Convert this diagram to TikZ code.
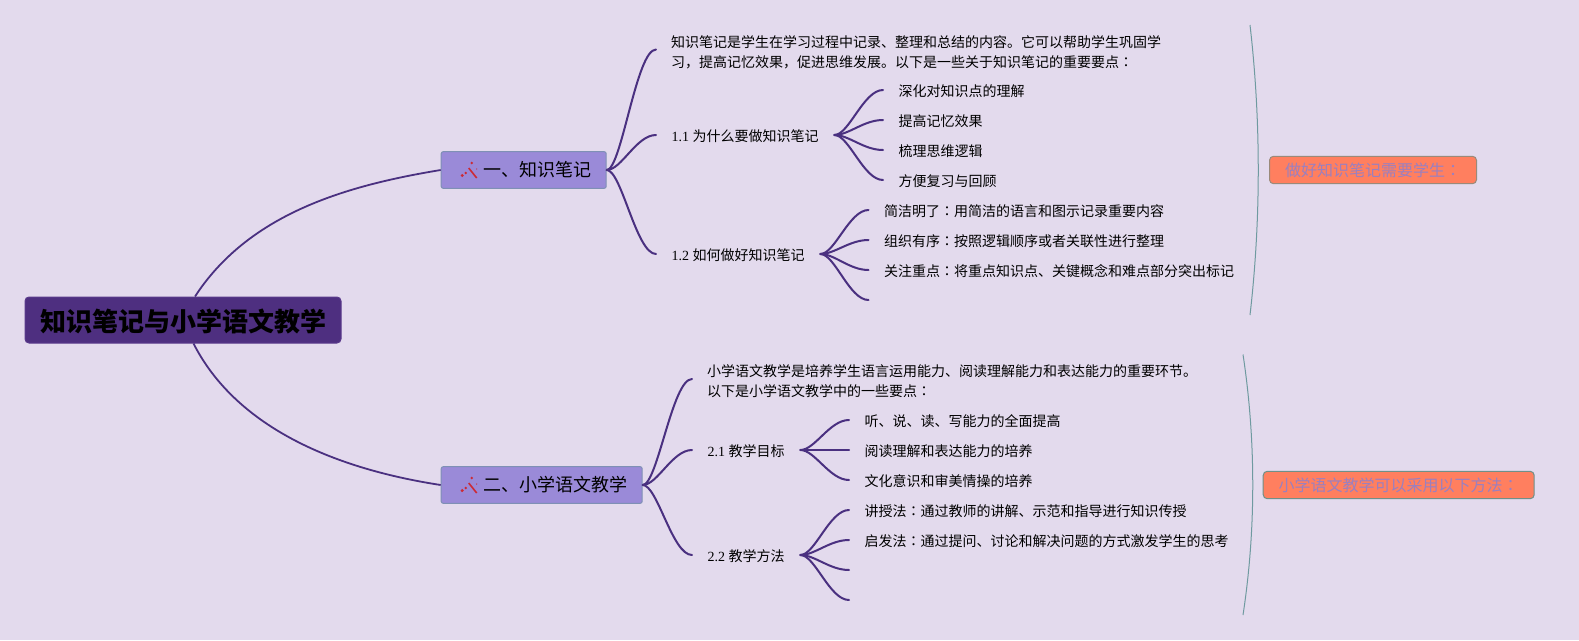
\documentclass[tikz,border=0pt]{standalone}
\usepackage{fontspec}
\setmainfont{Noto Sans CJK SC}
\newfontfamily\lat{Liberation Serif}
\newfontfamily\tcfont{Noto Sans CJK TC}
\newcommand{\zhcolon}{{\tcfont ：}}
\usetikzlibrary{calc}
\definecolor{bgc}{HTML}{E3DAED}
\definecolor{rootc}{HTML}{4E2F80}
\definecolor{rootb}{HTML}{5A3A8C}
\definecolor{topicc}{HTML}{9A8AD8}
\definecolor{topicb}{HTML}{7F90B5}
\definecolor{linkc}{HTML}{4A3080}
\definecolor{labelc}{HTML}{FF7F5F}
\definecolor{labeltx}{HTML}{9A80C0}
\definecolor{braceb}{HTML}{6F9AA0}
\definecolor{wandc}{HTML}{CC2A35}
\definecolor{labelba}{HTML}{9A8A7A}
\definecolor{labelbb}{HTML}{6F9088}
\tikzset{
  x=1pt,y=-1pt,
  rootbox/.style={draw=rootb,fill=rootc,line width=1pt,rounded corners=4pt,inner xsep=15pt,inner ysep=0pt,minimum height=46pt,
    font={\fontsize{26}{30}\selectfont\bfseries},text=black,text height=22pt,text depth=0pt},
  topicbox/.style={draw=topicb,fill=topicc,line width=1pt,rounded corners=2pt,inner xsep=15pt,inner ysep=0pt,minimum height=36.6pt,anchor=west,
    font={\fontsize{18}{22}\selectfont},text=black},
  leaf/.style={inner xsep=15.5pt,inner ysep=0pt,anchor=west,align=left,text=black,
    font={\fontsize{14}{20}\selectfont},text height=12pt,text depth=0pt},
  para/.style={inner xsep=15pt,inner ysep=0pt,anchor=west,align=left,text=black,
    font={\fontsize{14}{20}\selectfont}},
  labelbox/.style={fill=labelc,line width=1pt,rounded corners=4pt,inner xsep=15.5pt,inner ysep=0pt,minimum height=27.4pt,anchor=west,
    font={\fontsize{16}{20}\selectfont},text=labeltx},
  link/.style={draw=linkc,line width=2pt,line cap=round},
  mainlink/.style={draw=linkc,line width=1.8pt},
  bracket/.style={draw=braceb,line width=1pt},
}
\newcommand{\conn}[2]{\draw[link] (#1) .. controls ($(#1)!0.3!(#2 |- #1)$) and ($(#1 |- #2)!0.6!(#2)$) .. (#2);}
\newcommand{\wandicon}[1]{%
  \begin{scope}[shift={(#1.west)}]
    \draw[wandc,line width=1.6pt] (28,-2) -- (36,8);
    \fill[wandc] (21.5,5.5) circle (1.7pt) (25,3) circle (1.4pt) (31,-7) circle (1.4pt) (36,-1) circle (.7pt);
  \end{scope}}
\begin{document}
\begin{tikzpicture}
\useasboundingbox (0,0) rectangle (1579,640);
\fill[bgc] (0,0) rectangle (1579,640);
% nodes
\node[rootbox] (root) at (183,320) {知识笔记与小学语文教学};
\node[topicbox] (n1) at (440.7,170) {\hspace*{27pt}一、知识笔记};
\node[topicbox] (n2) at (440.7,485) {\hspace*{27pt}二、小学语文教学};
\wandicon{n1}
\wandicon{n2}
% section 1
\node[para] (t1) at (656,52.5) {知识笔记是学生在学习过程中记录、整理和总结的内容。它可以帮助学生巩固学\\习，提高记忆效果，促进思维发展。以下是一些关于知识笔记的重要要点\zhcolon};
\coordinate (t1p) at ([yshift=3pt]t1.west);
\node[leaf] (a) at (656,135) {{\lat 1.1 }为什么要做知识笔记};
\node[leaf] (b) at (656,254) {{\lat 1.2 }如何做好知识笔记};
\node[leaf] (a1) at (883,90) {深化对知识点的理解};
\node[leaf] (a2) at (883,120) {提高记忆效果};
\node[leaf] (a3) at (883,150) {梳理思维逻辑};
\node[leaf] (a4) at (883,180) {方便复习与回顾};
\node[leaf] (b1) at (868.5,210) {简洁明了\zhcolon 用简洁的语言和图示记录重要内容};
\node[leaf] (b2) at (868.5,240) {组织有序\zhcolon 按照逻辑顺序或者关联性进行整理};
\node[leaf] (b3) at (868.5,270) {关注重点\zhcolon 将重点知识点、关键概念和难点部分突出标记};
\coordinate (b4) at (868.5,300);
% section 2
\node[para] (t2) at (692,381) {小学语文教学是培养学生语言运用能力、阅读理解能力和表达能力的重要环节。\\以下是小学语文教学中的一些要点\zhcolon};
\coordinate (t2p) at ([yshift=2pt]t2.west);
\node[leaf] (c) at (692,450) {{\lat 2.1 }教学目标};
\node[leaf] (d) at (692,555) {{\lat 2.2 }教学方法};
\node[leaf] (c1) at (849,420) {听、说、读、写能力的全面提高};
\node[leaf] (c2) at (849,450) {阅读理解和表达能力的培养};
\node[leaf] (c3) at (849,480) {文化意识和审美情操的培养};
\node[leaf] (d1) at (849,510) {讲授法\zhcolon 通过教师的讲解、示范和指导进行知识传授};
\node[leaf] (d2) at (849,540) {启发法\zhcolon 通过提问、讨论和解决问题的方式激发学生的思考};
\coordinate (d3) at (849,570);
\coordinate (d4) at (849,600);
% summaries
\node[labelbox,draw=labelba] (s1) at (1269,170) {做好知识笔记需要学生\zhcolon};
\node[labelbox,draw=labelbb] (s2) at (1262.7,485) {小学语文教学可以采用以下方法\zhcolon};
% main connectors
\draw[mainlink] ([xshift=12pt]root.north) .. controls (250,212) and (350,185) .. (n1.west);
\draw[mainlink] ([xshift=10.5pt]root.south) .. controls (235,425) and (330,468) .. (n2.west);
% branches
\conn{n1.east}{t1p}
\conn{n1.east}{a.west}
\conn{n1.east}{b.west}
\conn{a.east}{a1.west}
\conn{a.east}{a2.west}
\conn{a.east}{a3.west}
\conn{a.east}{a4.west}
\conn{b.east}{b1.west}
\conn{b.east}{b2.west}
\conn{b.east}{b3.west}
\conn{b.east}{b4}
\conn{n2.east}{t2p}
\conn{n2.east}{c.west}
\conn{n2.east}{d.west}
\conn{c.east}{c1.west}
\conn{c.east}{c2.west}
\conn{c.east}{c3.west}
\conn{d.east}{d1.west}
\conn{d.east}{d2.west}
\conn{d.east}{d3}
\conn{d.east}{d4}
% summary brackets
\draw[bracket] (1250,25) .. controls (1261,120) and (1261,220) .. (1250,315);
\draw[bracket] (1243,354.5) .. controls (1256,440) and (1256,530) .. (1243,615);
\end{tikzpicture}
\end{document}
